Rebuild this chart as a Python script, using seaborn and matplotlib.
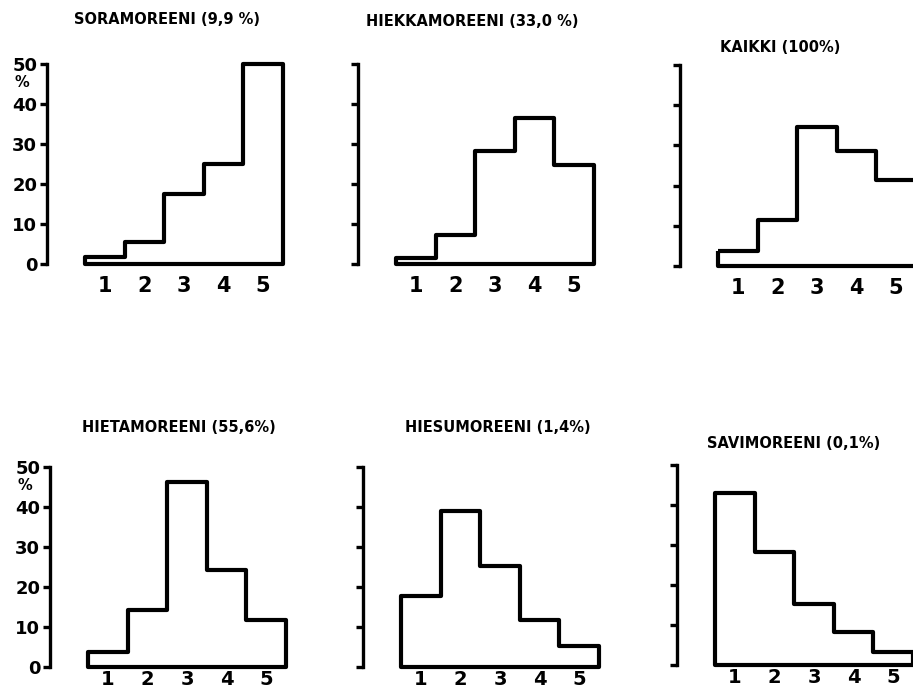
import matplotlib
matplotlib.use("Agg")
import matplotlib.pyplot as plt
import seaborn as sns
from matplotlib import font_manager as fm

# ---- data ----
classes = [1, 2, 3, 4, 5]
x_labels = ["1", "2", "3", "4", "5"]
y_ticks = [0, 10, 20, 30, 40, 50]
titles = ["SORAMOREENI (9,9 %)", "HIEKKAMOREENI (33,0 %)", "KAIKKI (100%)",
          "HIETAMOREENI (55,6%)", "HIESUMOREENI (1,4%)", "SAVIMOREENI (0,1%)"]
sora = [1.7, 5.6, 17.5, 25.0, 50.0]
hiekka = [1.4, 7.3, 28.2, 36.4, 24.8]
kaikki = [3.7, 11.4, 34.5, 28.7, 21.5]
hieta = [3.8, 14.3, 46.2, 24.2, 11.7]
hiesu = [17.7, 38.9, 25.2, 11.8, 5.2]
savi = [43.1, 28.3, 15.2, 8.2, 3.3]
series = [sora, hiekka, kaikki, hieta, hiesu, savi]

sns.set_theme(style="white")
names = {f.name for f in fm.fontManager.ttflist}
fam = "Liberation Sans Narrow" if "Liberation Sans Narrow" in names else "DejaVu Sans"
plt.rcParams['font.family'] = [fam, 'DejaVu Sans']
plt.rcParams['font.weight'] = 'bold'
for k in ["text.color", "xtick.color", "ytick.color", "axes.labelcolor"]:
    plt.rcParams[k] = "black"

W, H = 913, 696
fig = plt.figure(figsize=(W / 100, H / 100), dpi=100)
fig.patch.set_facecolor("white")

# spine x, y(0), y(50) in pixels
layout = [(47, 264, 64), (358, 264, 64), (680, 266, 65),
          (50, 667, 467), (363, 667, 467), (677, 665, 465)]
title_pos = [(167, 20), (472, 22), (780, 48), (179, 427), (498, 428), (794, 443)]
unit = 39.5
xmin, xmax = -0.47, 5.63

for i, (vals, (sx, y0, y50)) in enumerate(zip(series, layout)):
    wpx = (xmax - xmin) * unit
    ax = fig.add_axes([sx / W, (H - y0) / H, wpx / W, (y0 - y50) / H])
    ax.set_facecolor("none")
    sns.histplot(x=classes, weights=vals, discrete=True, element="step",
                 fill=True, color="black", facecolor="none", edgecolor="black",
                 linewidth=3.0, ax=ax)
    for c in ax.collections:
        c.set_clip_on(False)
    ax.set_xlim(xmin, xmax)
    ax.set_ylim(0, 50)
    for s in ["top", "right", "bottom"]:
        ax.spines[s].set_visible(False)
    ax.spines["left"].set_linewidth(2.4)
    ax.spines["left"].set_color("black")
    ax.set_ylabel("")
    ax.set_xlabel("")
    ax.set_yticks(y_ticks)
    left_col = i in (0, 3)
    if left_col:
        ax.set_yticklabels([str(t) for t in y_ticks], fontsize=13, fontweight="bold")
        ax.text(xmin - 25 / unit, 45.3, "%", ha="center", va="center",
                fontsize=10.5, fontweight="bold", clip_on=False)
    else:
        ax.set_yticklabels([])
    ax.tick_params(axis="y", direction="out", length=5, width=2.4,
                   color="black", labelcolor="black", pad=2, left=True)
    ax.set_xticks(classes)
    top_row = i < 3
    ax.set_xticklabels(x_labels, fontsize=15 if top_row else 14, fontweight="bold")
    ax.tick_params(axis="x", length=0, pad=9 if top_row else 2,
                   bottom=False, labelcolor="black")
    tx, ty = title_pos[i]
    fig.text(tx / W, 1 - ty / H, titles[i], ha="center", va="center",
             fontsize=10.5, fontweight="bold", color="black")

fig.savefig("out.png", dpi=100)
